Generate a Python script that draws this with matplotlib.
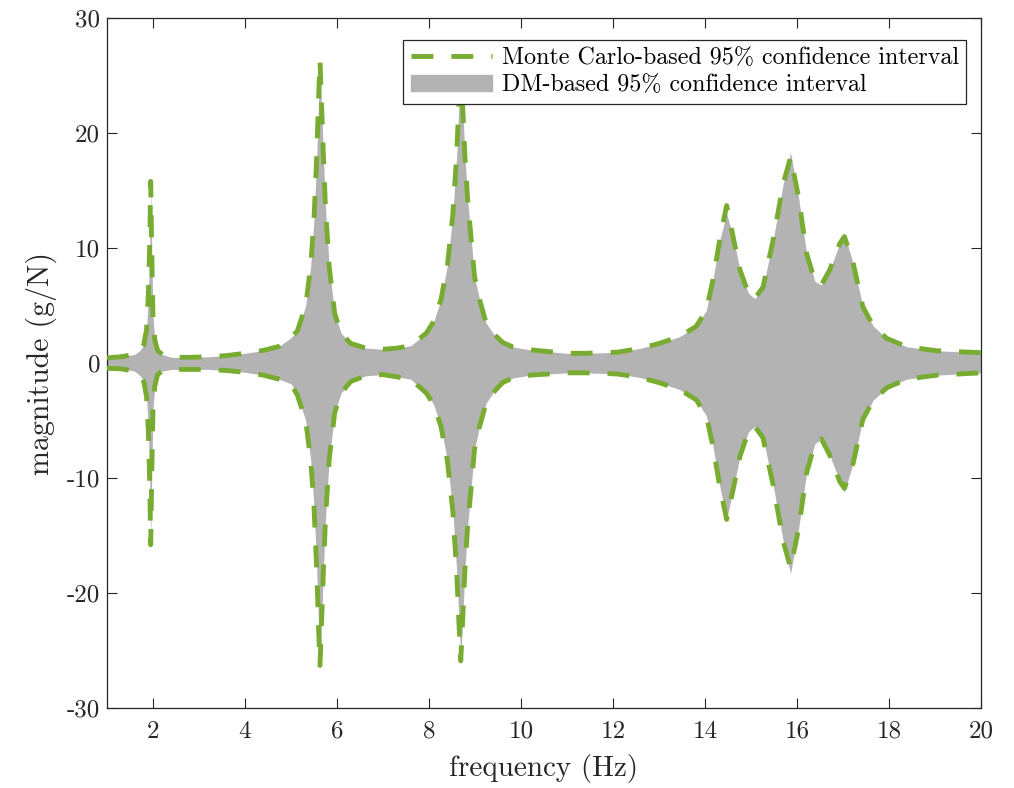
import numpy as np
import matplotlib
matplotlib.use("Agg")
import matplotlib.pyplot as plt
from matplotlib.patches import Patch
from matplotlib.lines import Line2D

# ─── Dati ───────────────────────────────────────────────────────────────────
freq = [1.00, 1.30, 1.60, 1.72, 1.80, 1.86, 1.90, 1.93, 1.95, 1.97,
        2.00, 2.04, 2.10, 2.20, 2.40, 2.80, 3.20, 3.60, 4.00, 4.40,
        4.74, 5.00, 5.14, 5.32, 5.43, 5.50, 5.56, 5.60, 5.63, 5.66,
        5.70, 5.75, 5.83, 5.95, 6.09, 6.30, 6.63, 7.00, 7.30, 7.60,
        7.94, 8.10, 8.26, 8.40, 8.52, 8.60, 8.65, 8.69, 8.73, 8.78,
        8.84, 8.99, 9.10, 9.24, 9.39, 9.60, 9.82, 10.2, 10.6, 11.0,
        11.4, 11.8, 12.1, 12.58, 13.0, 13.45, 13.81, 14.03, 14.17, 14.32,
        14.47, 14.61, 14.76, 14.94, 15.08, 15.26, 15.48, 15.70, 15.86, 16.03,
        16.21, 16.39, 16.53, 16.71, 16.93, 17.03, 17.22, 17.43, 17.66, 17.95,
        18.38, 19.04, 20.0]

mc_upper = [0.45, 0.55, 0.75, 1.1, 1.6, 2.9, 6.0, 10.5, 15.8, 10.5,
            4.0, 2.0, 1.1, 0.75, 0.5, 0.5, 0.55, 0.65, 0.85, 1.1,
            1.45, 2.2, 2.8, 5.0, 8.5, 12.5, 18.0, 23.0, 26.3, 23.0,
            18.5, 13.5, 8.4, 4.3, 2.6, 1.7, 1.3, 1.2, 1.3, 1.5,
            2.6, 3.6, 5.5, 8.5, 13.0, 18.0, 22.5, 26.0, 22.5, 18.0,
            14.2, 7.5, 5.5, 3.5, 2.6, 1.8, 1.4, 1.15, 1.0, 0.85,
            0.85, 0.9, 0.95, 1.27, 1.7, 2.3, 3.2, 4.6, 7.2, 10.7,
            13.7, 11.0, 8.1, 6.1, 5.6, 6.6, 10.7, 15.6, 17.9, 14.5,
            9.5, 7.1, 6.8, 8.1, 10.4, 11.0, 8.7, 4.9, 3.2, 2.15,
            1.42, 1.07, 0.9]

mc_lower = [-0.45, -0.5, -0.7, -1.1, -1.6, -2.9, -6.0, -10.5, -15.8, -10.5,
            -4.0, -2.0, -1.0, -0.7, -0.55, -0.55, -0.55, -0.65, -0.8, -1.05,
            -1.4, -1.8, -2.8, -5.0, -8.5, -12.5, -18.0, -23.0, -26.3, -23.0,
            -18.5, -13.5, -8.4, -4.3, -2.6, -1.6, -1.1, -1.0, -1.2, -1.4,
            -2.6, -3.6, -5.5, -8.5, -13.0, -18.0, -22.5, -25.9, -22.5, -18.0,
            -14.2, -7.5, -5.5, -3.5, -2.6, -1.7, -1.3, -1.05, -0.95, -0.85,
            -0.85, -0.9, -0.95, -1.25, -1.7, -2.3, -3.2, -4.6, -7.2, -10.7,
            -13.6, -11.0, -8.1, -6.0, -5.5, -6.5, -10.6, -15.5, -17.8, -14.5,
            -9.5, -7.0, -6.6, -8.0, -10.3, -10.9, -8.7, -4.9, -3.2, -2.15,
            -1.4, -1.05, -0.85]

dm_upper = [0.45, 0.55, 0.75, 1.1, 1.6, 2.9, 6.0, 10.5, 15.5, 10.5,
            4.0, 2.0, 1.1, 0.75, 0.5, 0.5, 0.55, 0.65, 0.85, 1.1,
            1.45, 2.2, 2.8, 5.0, 8.5, 12.5, 18.0, 23.0, 26.0, 23.0,
            18.5, 13.5, 8.4, 4.3, 2.6, 1.7, 1.3, 1.2, 1.3, 1.5,
            2.6, 3.6, 5.5, 8.5, 13.0, 18.0, 22.5, 25.8, 22.5, 18.0,
            14.2, 7.5, 5.5, 3.5, 2.6, 1.8, 1.4, 1.15, 1.0, 0.85,
            0.85, 0.9, 0.95, 1.27, 1.7, 2.3, 3.2, 4.6, 7.2, 10.7,
            13.0, 11.0, 8.1, 6.1, 5.6, 6.6, 10.7, 15.6, 18.3, 14.5,
            9.5, 7.1, 6.8, 8.1, 10.4, 11.2, 8.7, 4.9, 3.2, 2.15,
            1.42, 1.07, 0.9]

dm_lower = [-0.45, -0.5, -0.7, -1.1, -1.6, -2.9, -6.0, -10.5, -15.5, -10.5,
            -4.0, -2.0, -1.0, -0.7, -0.55, -0.55, -0.55, -0.65, -0.8, -1.05,
            -1.4, -1.8, -2.8, -5.0, -8.5, -12.5, -18.0, -23.0, -26.0, -23.0,
            -18.5, -13.5, -8.4, -4.3, -2.6, -1.6, -1.1, -1.0, -1.2, -1.4,
            -2.6, -3.6, -5.5, -8.5, -13.0, -18.0, -22.5, -25.6, -22.5, -18.0,
            -14.2, -7.5, -5.5, -3.5, -2.6, -1.7, -1.3, -1.05, -0.95, -0.85,
            -0.85, -0.9, -0.95, -1.25, -1.7, -2.3, -3.2, -4.6, -7.2, -10.7,
            -13.6, -11.0, -8.1, -6.0, -5.5, -6.5, -10.6, -15.5, -18.3, -14.5,
            -9.5, -7.0, -6.6, -8.0, -10.3, -11.2, -8.7, -4.9, -3.2, -2.15,
            -1.4, -1.05, -0.85]

x_ticks = [2, 4, 6, 8, 10, 12, 14, 16, 18, 20]
y_ticks = [-30, -20, -10, 0, 10, 20, 30]

GREEN = "#77ac30"
GREY  = "#b3b3b3"
DASH  = (0, (4.5, 3.7))

plt.rcParams.update({
    "font.family":        ["cmr10", "DejaVu Serif"],
    "mathtext.fontset":   "cm",
    "axes.unicode_minus": False,
    "axes.formatter.use_mathtext": False,
    "xtick.direction":    "in",
    "ytick.direction":    "in",
    "xtick.top":          True,
    "ytick.right":        True,
})

fig = plt.figure(figsize=(10.14, 7.88), dpi=100)
ax = fig.add_axes([0.1055, 0.1015, 0.862, 0.8755])

ax.fill_between(freq, dm_lower, dm_upper, color=GREY, lw=0, zorder=2)
ax.plot(freq, mc_upper, color=GREEN, lw=3.5, ls=DASH, zorder=3)
ax.plot(freq, mc_lower, color=GREEN, lw=3.5, ls=DASH, zorder=3)

ax.set_xlim(1, 20)
ax.set_ylim(-30, 30)
ax.set_xticks(x_ticks)
ax.set_yticks(y_ticks)
ax.tick_params(labelsize=18, length=7, width=0.8, color="#262626",
               labelcolor="#262626")
ax.tick_params(axis="x", pad=9)
ax.tick_params(axis="y", pad=5)
for sp in ax.spines.values():
    sp.set_color("#262626")
    sp.set_linewidth(0.9)

ax.set_xlabel("frequency (Hz)", fontsize=21, color="#262626", labelpad=8)
ax.set_ylabel("magnitude (g/N)", fontsize=21.5, color="#262626", labelpad=7)

handles = [Line2D([], [], color=GREEN, lw=3.5, ls=DASH),
           Patch(facecolor=GREY, edgecolor=GREY)]
labels = ["Monte Carlo-based 95% confidence interval",
          "DM-based 95% confidence interval"]
leg = ax.legend(handles, labels, loc="upper right", fontsize=17.3,
                bbox_to_anchor=(0.983, 0.968), fancybox=False,
                framealpha=1, edgecolor="#262626", handlelength=3.4,
                handletextpad=0.4, borderpad=0.3, labelspacing=0.2,
                borderaxespad=0)
leg.get_frame().set_linewidth(0.9)

fig.savefig("out.png", dpi=100)
